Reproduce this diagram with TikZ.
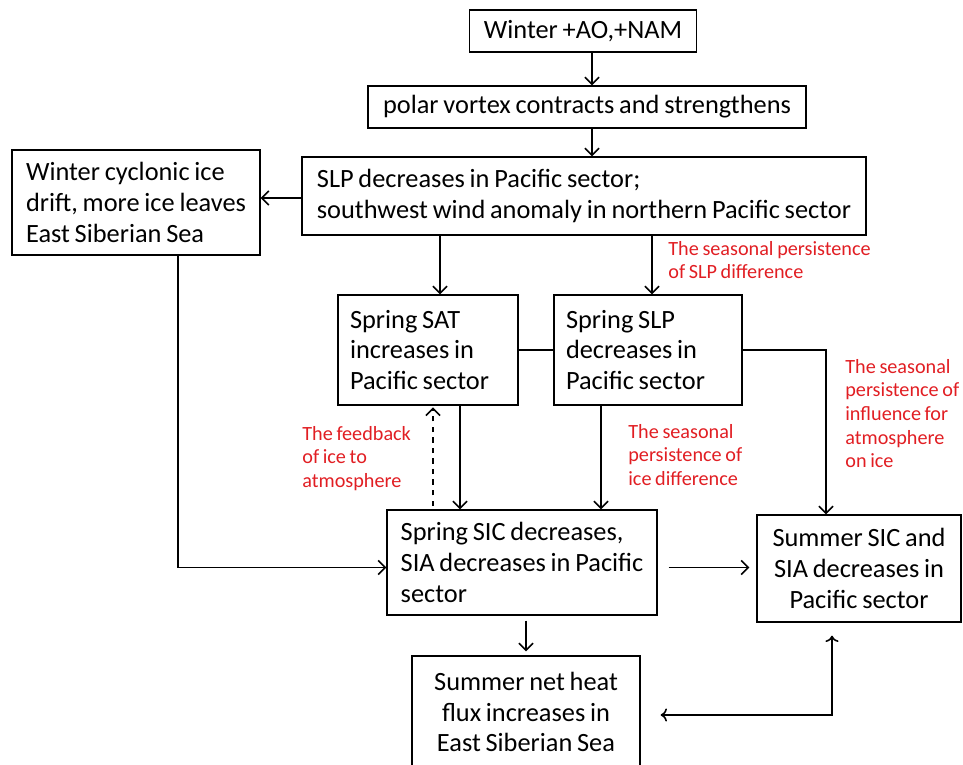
\documentclass[tikz,border=0pt]{standalone}
\usepackage{fontspec}
\setmainfont{Carlito}[WordSpace=0.8]
\usetikzlibrary{arrows.meta}
\definecolor{notered}{RGB}{225,30,35}

\begin{document}
\begin{tikzpicture}[x=0.02cm, y=-0.02cm,
    box/.style={draw, line width=0.8pt, inner sep=0pt,
        font=\fontsize{15}{17.6}\selectfont},
    conn/.style={-{Straight Barb[length=4pt,width=8pt]}, line width=0.9pt},
    note/.style={anchor=north west, align=left, inner sep=0pt, text=notered,
        font=\fontsize{11.5}{13.4}\selectfont}]
    \useasboundingbox (0,0) rectangle (963,764);

    % Boxes
    \node[box, align=center, minimum width=4.54cm,
        minimum height=0.84cm] (winter) at (583,31) {Winter +AO,+NAM};
    \node[box, align=center, minimum width=8.76cm,
        minimum height=0.84cm] (vortex) at (587,107)
        {polar vortex contracts and strengthens};
    \node[box, align=left, minimum width=11.28cm,
        minimum height=1.56cm] (slp) at (584,196)
        {SLP decreases in Pacific sector;\\
         southwest wind anomaly in northern Pacific sector};
    \node[box, align=left, minimum width=4.96cm,
        minimum height=2.1cm] (drift) at (136,202.5)
        {Winter cyclonic ice\\drift, more ice leaves\\East Siberian Sea};
    \node[box, align=flush left, inner xsep=0.24cm, text width=3.12cm,
        minimum height=2.2cm] (sat) at (428,350)
        {Spring SAT\\increases in\\Pacific sector};
    \node[box, align=flush left, inner xsep=0.24cm, text width=3.28cm,
        minimum height=2.2cm] (spslp) at (648,350)
        {Spring SLP\\decreases in\\Pacific sector};
    \node[box, align=left, minimum width=5.4cm,
        minimum height=2.1cm] (spsic) at (522,562.5)
        {Spring SIC decreases,\\SIA decreases in Pacific\\sector};
    \node[box, align=center, minimum width=4.08cm,
        minimum height=2.14cm] (sumsic) at (859,568.5)
        {Summer SIC and\\SIA decreases in\\Pacific sector};
    \node[box, align=center, minimum width=4.56cm,
        minimum height=2.24cm] (flux) at (526,712)
        {Summer net heat\\flux increases in\\East Siberian Sea};

    % Connectors
    \draw[conn] ([xshift=0.18cm]winter.south)
        -- ([xshift=0.18cm]winter.south |- vortex.north);
    \draw[conn] ([xshift=0.1cm]vortex.south)
        -- ([xshift=0.1cm]vortex.south |- slp.north);
    \draw[conn] ([yshift=-0.04cm]slp.west)
        -- ([yshift=-0.04cm]slp.west -| drift.east);
    \draw[conn] ([xshift=0.24cm]sat.north |- slp.south)
        -- ([xshift=0.24cm]sat.north);
    \draw[conn] ([xshift=0.08cm]spslp.north |- slp.south)
        -- ([xshift=0.08cm]spslp.north);
    \draw[line width=0.9pt] (sat.east) -- (spslp.west);
    \draw[conn] (spslp.east) -| ([xshift=-0.66cm]sumsic.north);
    \draw[conn] ([xshift=0.64cm]sat.south)
        -- ([xshift=0.64cm]sat.south |- spsic.north);
    \draw[conn, dashed, shorten <=2pt, shorten >=1pt]
        ([xshift=0.1cm]sat.south |- spsic.north)
        -- ([xshift=0.1cm]sat.south);
    \draw[conn] ([xshift=-0.94cm]spslp.south)
        -- ([xshift=-0.94cm]spslp.south |- spsic.north);
    \draw[conn] ([xshift=0.84cm]drift.south)
        |- ([yshift=-0.1cm]spsic.west);
    \draw[conn, shorten <=0.22cm, shorten >=0.14cm]
        ([yshift=-0.1cm]spsic.east) -- ([yshift=-0.1cm]spsic.east -| sumsic.west);
    \draw[conn, shorten <=0.1cm, shorten >=0.08cm]
        (spsic.south -| flux.north) -- (flux.north);
    \draw[conn, <->, shorten <=0.4cm, shorten >=0.26cm]
        ([yshift=-0.06cm]flux.east) -| ([xshift=-0.54cm]sumsic.south);

    % Red notes
    \node[note] (nslp) at (668,241)
        {The seasonal persistence\\of SLP difference};
    \node[note] (ninfl) at (845,359)
        {The seasonal\\persistence of\\influence for\\atmosphere\\on ice};
    \node[note] (nfeed) at (302,426)
        {The feedback\\of ice to\\atmosphere};
    \node[note] (nice) at (628,424)
        {The seasonal\\persistence of\\ice difference};

\end{tikzpicture}
\end{document}
